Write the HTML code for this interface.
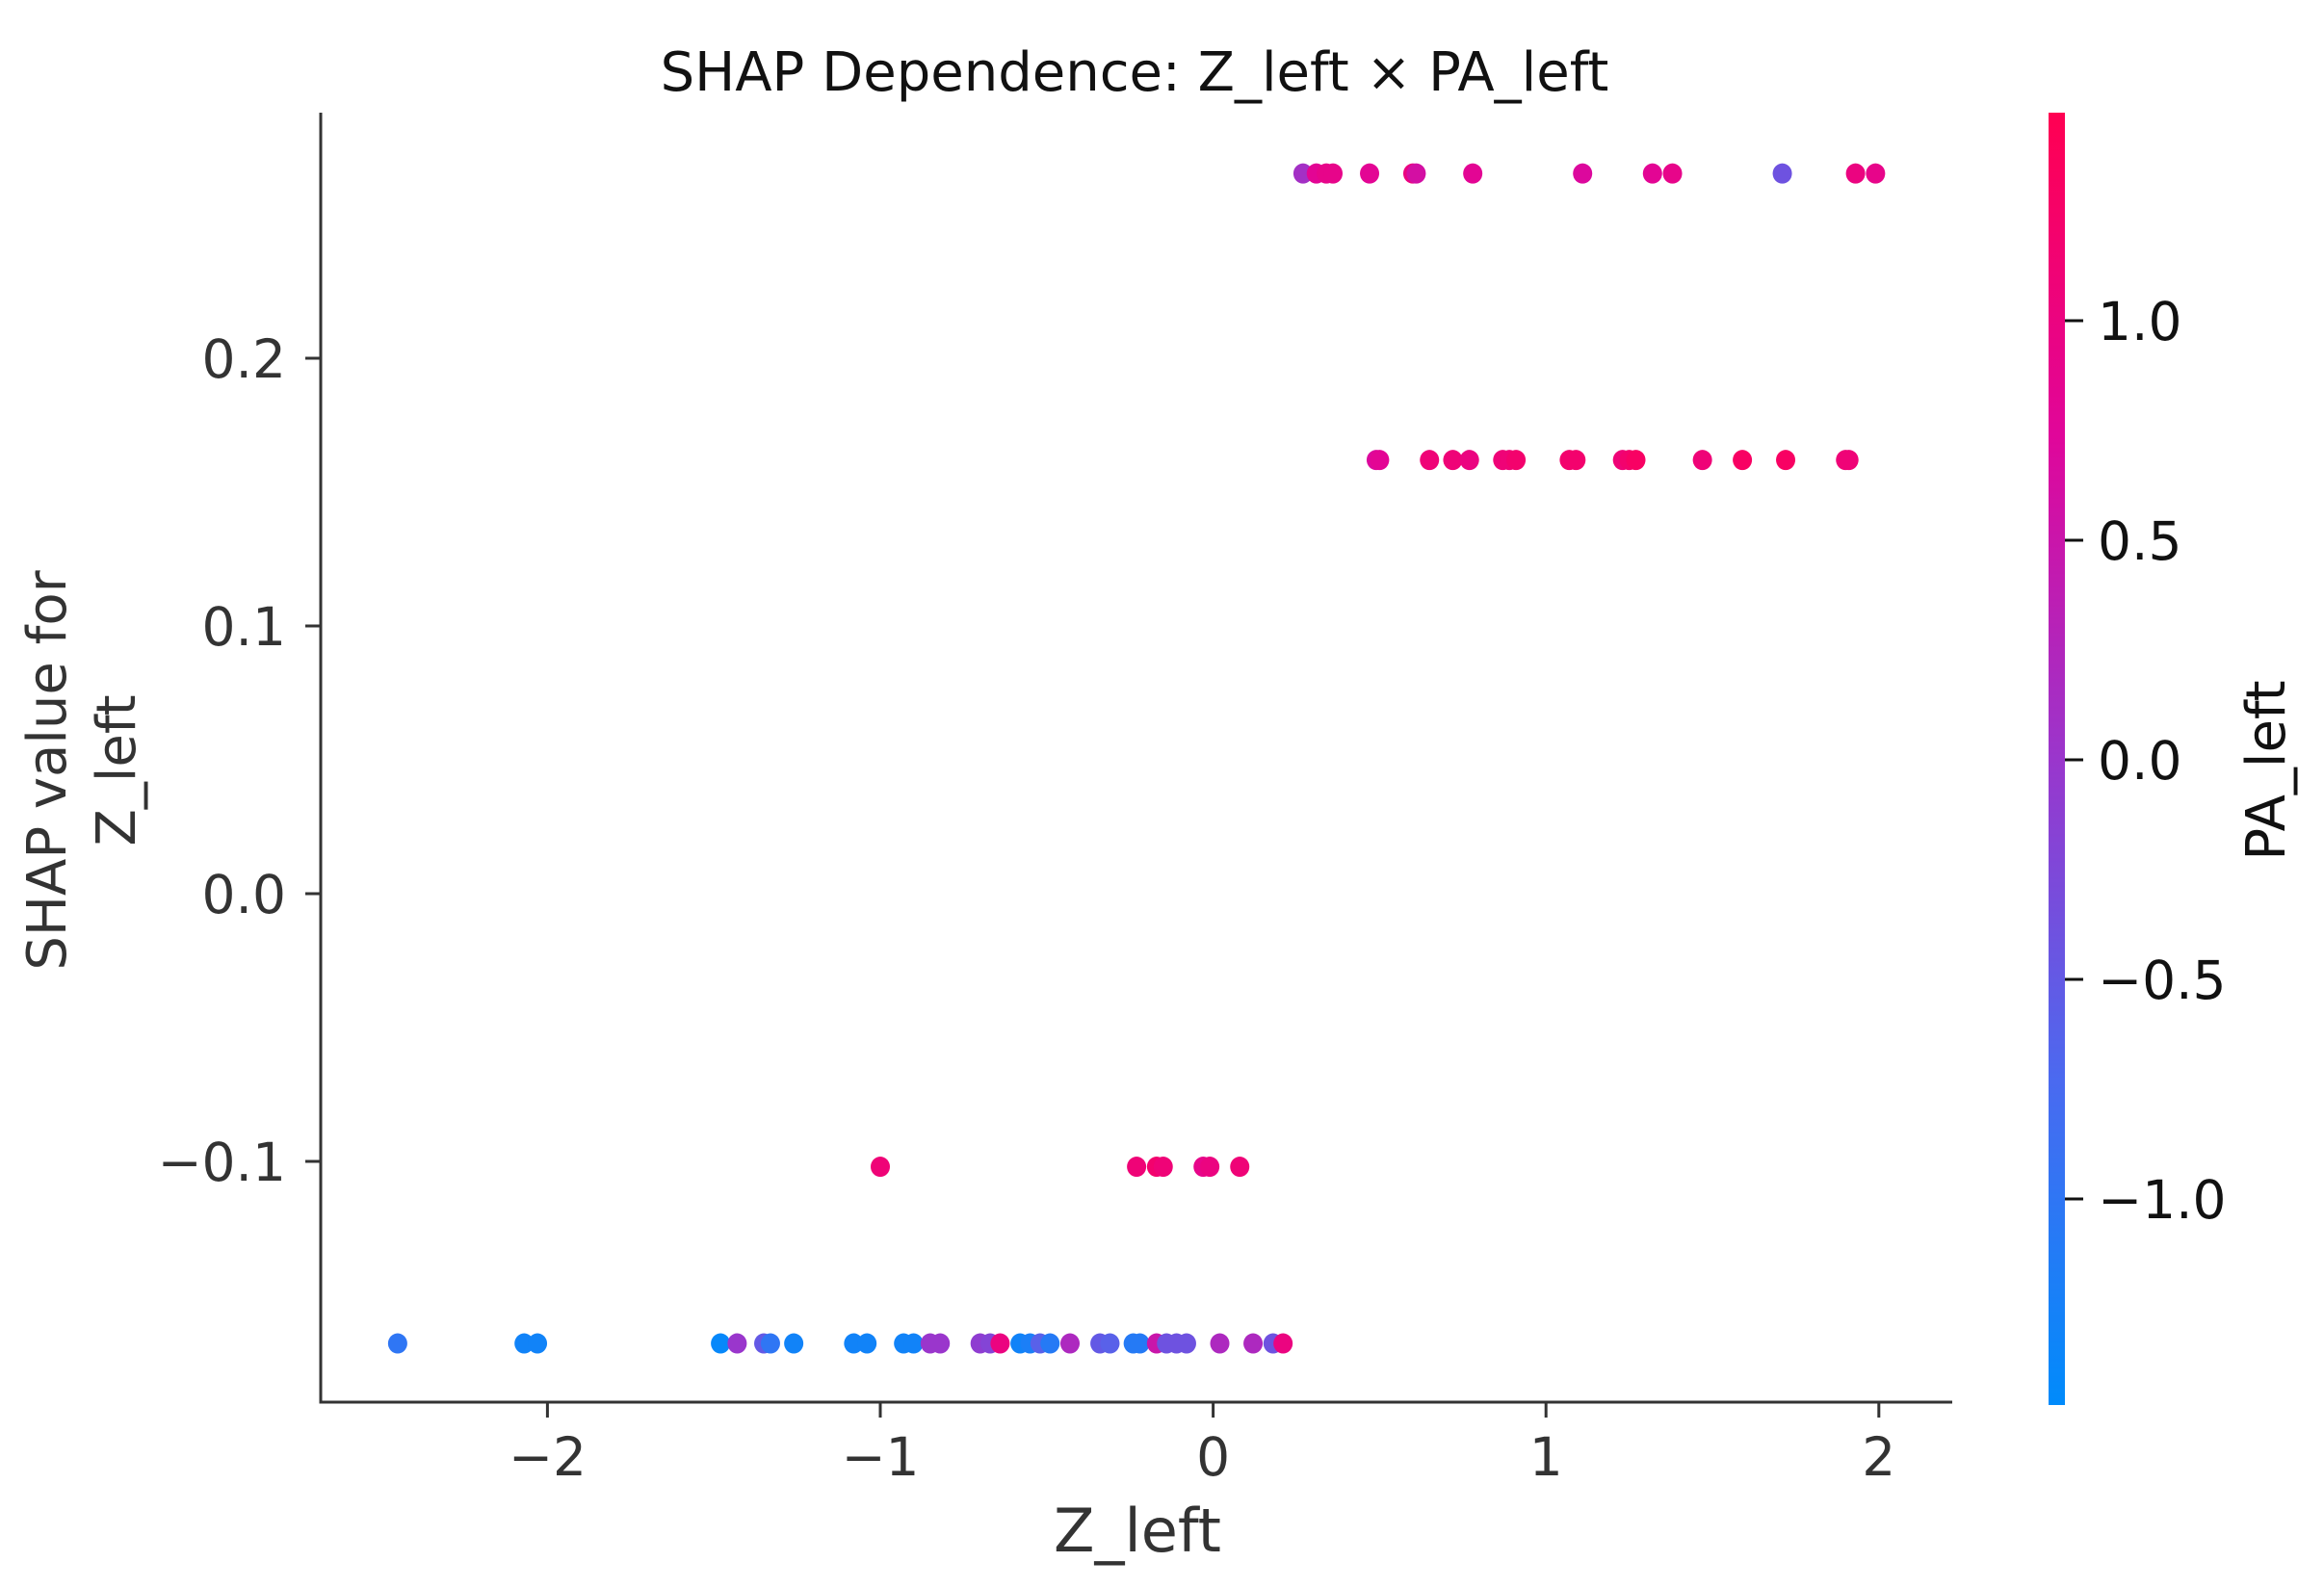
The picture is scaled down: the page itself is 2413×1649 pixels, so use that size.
<!DOCTYPE html>
<html><head><meta charset="utf-8"><style>
html,body{margin:0;padding:0;background:#fff;}
svg{display:block;font-family:"DejaVu Sans","Liberation Sans",sans-serif;}
</style></head><body>
<svg id="chart" width="2413" height="1649" viewBox="0 0 2413 1649" xmlns="http://www.w3.org/2000/svg">
<defs>
<linearGradient id="cbgrad" x1="0" y1="1" x2="0" y2="0">
<stop offset="0" stop-color="#008bfb"/>
<stop offset="0.25" stop-color="#4a6af0"/>
<stop offset="0.5" stop-color="#9a36cc"/>
<stop offset="0.75" stop-color="#e0069a"/>
<stop offset="1" stop-color="#ff0052"/>
</linearGradient>
</defs>
<text x="1178" y="94" font-size="56" text-anchor="middle" fill="#111">SHAP Dependence: Z_left × PA_left</text>
<g id="axes"></g>
<g id="points"></g>
<text x="1181" y="1611" font-size="62" text-anchor="middle" fill="#333">Z_left</text>
<text transform="translate(68,800) rotate(-90)" font-size="56" text-anchor="middle" fill="#333">SHAP value for</text>
<text transform="translate(140,800) rotate(-90)" font-size="56" text-anchor="middle" fill="#333">Z_left</text>
<rect x="2127" y="117" width="17" height="1342" fill="url(#cbgrad)"/>
<g id="cbaxis"></g>
<text transform="translate(2372,800) rotate(-90)" font-size="56" text-anchor="middle" fill="#111">PA_left</text>
</svg>
<script>
const xTicks = [-2, -1, 0, 1, 2];
const xTickLabels = ["\u22122", "\u22121", "0", "1", "2"];
const yTicks = [-0.1, 0.0, 0.1, 0.2];
const yTickLabels = ["\u22120.1", "0.0", "0.1", "0.2"];
const cTicks = [-1.0, -0.5, 0.0, 0.5, 1.0];
const cTickLabels = ["\u22121.0", "\u22120.5", "0.0", "0.5", "1.0"];

const zTop = [0.27,0.31,0.34,0.36,0.47,0.60,0.61,0.78,1.11,1.32,1.38,1.71,1.93,1.99];
const shapTop = [0.269,0.269,0.269,0.269,0.269,0.269,0.269,0.269,0.269,0.269,0.269,0.269,0.269,0.269];
const paTop = [0.1,0.8,0.9,0.9,0.8,1.0,0.6,0.8,0.7,0.8,0.9,-0.4,1.0,0.9];

const zMid = [0.49,0.50,0.65,0.72,0.77,0.87,0.89,0.91,1.07,1.09,1.23,1.25,1.27,1.47,1.59,1.72,1.90,1.91];
const shapMid = [0.162,0.162,0.162,0.162,0.162,0.162,0.162,0.162,0.162,0.162,0.162,0.162,0.162,0.162,0.162,0.162,0.162,0.162];
const paMid = [0.7,0.8,1.1,1.1,1.0,1.1,1.1,1.2,1.2,1.2,1.1,1.2,1.3,1.1,1.3,1.3,1.1,1.1];

const zLow = [-1.00,-0.23,-0.17,-0.15,-0.03,-0.01,0.08];
const shapLow = [-0.102,-0.102,-0.102,-0.102,-0.102,-0.102,-0.102];
const paLow = [1.1,1.1,1.2,1.1,0.9,1.0,1.1];

const zBottom = [-2.45,-2.07,-2.03,-1.48,-1.43,-1.35,-1.33,-1.26,-1.08,-1.04,-0.93,-0.90,-0.85,-0.82,-0.70,-0.67,-0.64,-0.58,-0.55,-0.52,-0.49,-0.43,-0.34,-0.31,-0.24,-0.22,-0.17,-0.14,-0.11,-0.08,0.02,0.12,0.18,0.21];
const shapBottom = zBottom.map(() => -0.168);
const paBottom = [-1.0,-1.3,-1.3,-1.4,0.0,-0.5,-1.0,-1.3,-1.3,-1.3,-1.3,-1.3,0.0,0.0,-0.1,-0.2,1.0,-1.3,-1.2,-0.6,-1.1,0.2,-0.5,-0.6,-1.1,-1.1,0.5,-0.4,-0.4,-0.4,0.2,0.2,-0.4,1.0];

const NS = "http://www.w3.org/2000/svg";
const X0 = 333, X1 = 2027, YB = 1456, YT = 117;
function xs(v){ return 1259.6 + 345.6 * v; }
function ys(v){ return 928 - 2780 * v; }
function cs(v){ return 789 - 456 * v; }
const stops = [[0,[0,139,251]],[0.25,[74,106,240]],[0.5,[154,54,204]],[0.75,[224,6,154]],[1,[255,0,82]]];
function colorFor(pa){
  let t = (pa + 1.47) / 2.944; t = Math.max(0, Math.min(1, t));
  for (let i = 0; i < stops.length - 1; i++) {
    const [a, ca] = stops[i], [b, cb] = stops[i+1];
    if (t <= b) { const f = (t - a) / (b - a);
      return "rgb(" + ca.map((c, k) => Math.round(c + (cb[k] - c) * f)).join(",") + ")"; }
  }
  return "rgb(255,0,82)";
}
function mk(tag, attrs, parent){ const e = document.createElementNS(NS, tag); for (const k in attrs) e.setAttribute(k, attrs[k]); parent.appendChild(e); return e; }

const axes = document.getElementById("axes");
let el = mk("line", {x1:X0, y1:YT, x2:X0, y2:YB+1.5, stroke:"#333", "stroke-width":3}, axes);


el = mk("line", {x1:X0-1.5, y1:YB, x2:X1, y2:YB, stroke:"#333", "stroke-width":3}, axes);


xTicks.forEach((v, i) => {
  const t = mk("line", {x1:xs(v), y1:YB, x2:xs(v), y2:YB+16, stroke:"#333", "stroke-width":3}, axes);
  
  
  const l = mk("text", {x:xs(v), y:1532, "font-size":55, "text-anchor":"middle", fill:"#333"}, axes);
  l.textContent = xTickLabels[i];
  
  
});
yTicks.forEach((v, i) => {
  const t = mk("line", {x1:X0-16, y1:ys(v), x2:X0, y2:ys(v), stroke:"#333", "stroke-width":3}, axes);
  
  
  const l = mk("text", {x:297, y:ys(v)+20, "font-size":55, "text-anchor":"end", fill:"#333"}, axes);
  l.textContent = yTickLabels[i];
  
  
});
const cb = document.getElementById("cbaxis");
cTicks.forEach((v, i) => {
  const t = mk("line", {x1:2144, y1:cs(v), x2:2163, y2:cs(v), stroke:"#111", "stroke-width":3}, cb);
  
  
  const l = mk("text", {x:2178, y:cs(v)+20, "font-size":55, fill:"#111"}, cb);
  l.textContent = cTickLabels[i];
  
  
});
const pts = document.getElementById("points");
[[zBottom, shapBottom, paBottom], [zLow, shapLow, paLow], [zMid, shapMid, paMid], [zTop, shapTop, paTop]].forEach(([zs, ss, ps]) => {
  zs.forEach((z, i) => {
    const c = mk("ellipse", {cx:xs(z), cy:ys(ss[i]), rx:10, ry:10.5, fill:colorFor(ps[i])}, pts);
    
    
  });
});
</script>
</body></html>
